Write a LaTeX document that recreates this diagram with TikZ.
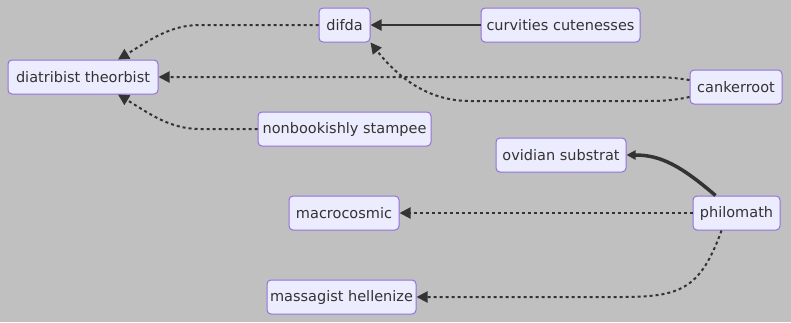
\documentclass[tikz,border=0pt]{standalone}
\usepackage{fontspec}
\setmainfont{DejaVu Sans}
\usetikzlibrary{arrows.meta}
\definecolor{bgcol}{HTML}{C0C0C0}
\definecolor{boxfill}{HTML}{ECECFF}
\definecolor{boxline}{HTML}{9370DB}
\definecolor{ink}{HTML}{333333}
\begin{document}
\begin{tikzpicture}[x=1pt,y=-1pt,
  box/.style={draw=boxline,fill=boxfill,line width=1pt,rounded corners=4pt,
    minimum height=34pt,inner sep=0pt,text=ink,
    font=\fontsize{14.5}{17}\selectfont},
  link/.style={draw=ink,line width=2pt,-{Triangle[length=11pt,width=11pt]}},
  dotlink/.style={link,dash pattern=on 3pt off 3pt},
  thicklink/.style={link,line width=3.5pt,-{Triangle[length=9pt,width=9pt]}}]
  \fill[bgcol] (0,0) rectangle (791,322);
  \useasboundingbox (0,0) rectangle (791,322);

  % nodes
  \node[box,minimum width=51pt]  (difda) at (344.5,25)  {difda};
  \node[box,minimum width=159pt] (curv)  at (560.5,25)  {curvities cutenesses};
  \node[box,minimum width=150pt] (diat)  at (83,77)     {diatribist theorbist};
  \node[box,minimum width=92pt]  (cank)  at (736,87)    {cankerroot};
  \node[box,minimum width=173pt] (nonb)  at (344.5,129) {nonbookishly stampee};
  \node[box,minimum width=130pt] (ovid)  at (561,155)   {ovidian substrat};
  \node[box,minimum width=110pt] (macro) at (344,213)   {macrocosmic};
  \node[box,minimum width=87pt]  (philo) at (736.5,213) {philomath};
  \node[box,minimum width=149pt] (mass)  at (341.5,297) {massagist hellenize};

  % connectors
  \draw[link] (curv.west) -- (difda.east);
  \draw[dotlink] (difda.west) -- (200,25)
    .. controls (170,25) and (150,40) .. ([xshift=35pt]diat.north);
  \draw[dotlink] ([yshift=7pt]cank.west)
    .. controls (670,77) and (660,77) .. (640,77) -- (diat.east);
  \draw[dotlink] ([yshift=-10pt]cank.west)
    .. controls (670,101) and (660,101) .. (640,101) -- (470,101)
    .. controls (430,101) and (400,80) .. (difda.south east);
  \draw[dotlink] (nonb.west) -- (200,129)
    .. controls (170,129) and (150,114) .. ([xshift=35pt]diat.south);
  \draw[thicklink] ([xshift=-21pt]philo.north)
    .. controls (680,165) and (660,155) .. (ovid.east);
  \draw[dotlink] (philo.west) -- (macro.east);
  \draw[dotlink] ([xshift=-15pt]philo.south)
    .. controls (700,290) and (680,297) .. (620,297) -- (mass.east);
\end{tikzpicture}
\end{document}
